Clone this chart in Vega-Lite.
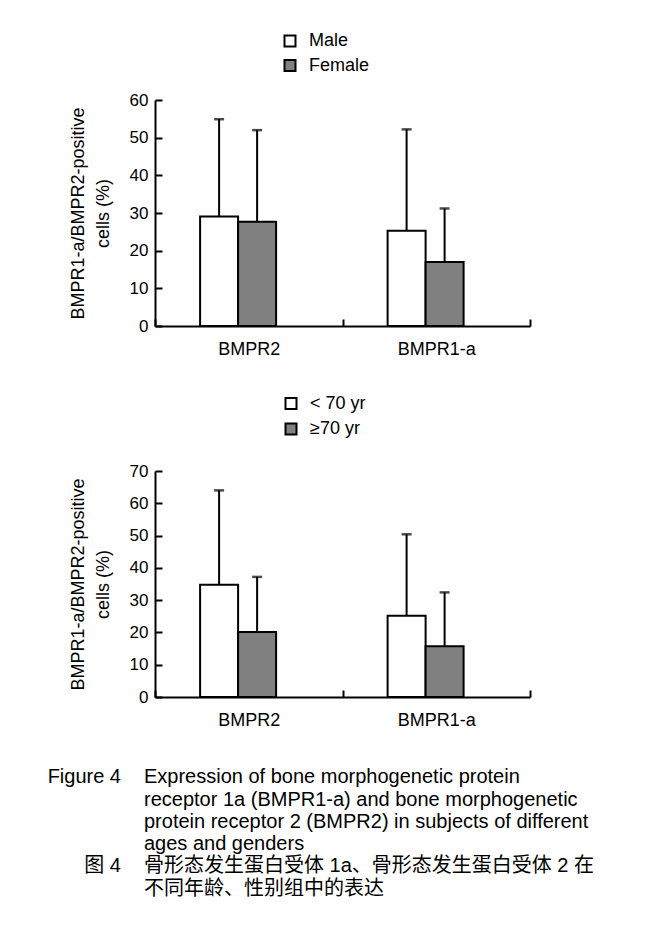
{
  "$schema": "https://vega.github.io/schema/vega-lite/v6.json",
  "background": "white",
  "padding": {"left": 44, "top": 32, "right": 5, "bottom": 5},
  "config": {
    "font": "Liberation Sans",
    "view": {"stroke": null},
    "axis": {
      "labelColor": "black",
      "labelFont": "Liberation Sans",
      "titleColor": "black",
      "titleFont": "Liberation Sans",
      "titleFontWeight": "normal",
      "domainColor": "black",
      "domainWidth": 2,
      "tickColor": "black",
      "tickWidth": 2,
      "tickSize": -7,
      "grid": false,
      "labelOverlap": false
    },
    "legend": {"labelFont": "Liberation Sans", "labelColor": "black"}
  },
  "datasets": {
    "gender": [
      {"receptor": "BMPR2", "group": "Male", "mean": 29.1, "upper": 54.9},
      {"receptor": "BMPR2", "group": "Female", "mean": 27.7, "upper": 52.0},
      {"receptor": "BMPR1-a", "group": "Male", "mean": 25.3, "upper": 52.2},
      {"receptor": "BMPR1-a", "group": "Female", "mean": 17.0, "upper": 31.2}
    ],
    "age": [
      {"receptor": "BMPR2", "group": "< 70 yr", "mean": 34.8, "upper": 64.0},
      {"receptor": "BMPR2", "group": "≥70 yr", "mean": 20.1, "upper": 37.2},
      {"receptor": "BMPR1-a", "group": "< 70 yr", "mean": 25.2, "upper": 50.4},
      {"receptor": "BMPR1-a", "group": "≥70 yr", "mean": 15.7, "upper": 32.4}
    ],
    "caption": [
      {"line": 1, "part": "label", "text": "Figure 4"},
      {"line": 1, "part": "body", "text": "Expression of bone morphogenetic protein"},
      {"line": 2, "part": "body", "text": "receptor 1a (BMPR1-a) and bone morphogenetic"},
      {"line": 3, "part": "body", "text": "protein receptor 2 (BMPR2) in subjects of different"},
      {"line": 4, "part": "body", "text": "ages and genders"},
      {"line": 5, "part": "label", "text": "图 4"},
      {"line": 5, "part": "body", "text": "骨形态发生蛋白受体 1a、骨形态发生蛋白受体 2 在"},
      {"line": 6, "part": "body", "text": "不同年龄、性别组中的表达"}
    ]
  },
  "resolve": {"scale": {"fill": "independent", "xOffset": "independent"}, "legend": {"fill": "independent"}},
  "spacing": 36,
  "vconcat": [
    {
      "width": 375,
      "height": 226,
      "data": {"name": "gender"},
      "encoding": {
        "x": {
          "field": "receptor", "type": "nominal", "sort": ["BMPR2", "BMPR1-a"],
          "scale": {"paddingInner": 0, "paddingOuter": 0},
          "axis": {"title": null, "labelAngle": 0, "tickBand": "extent", "labelFontSize": 18, "labelPadding": 21}
        },
        "xOffset": {
          "field": "group", "type": "nominal",
          "scale": {"domain": ["_l", "Male", "Female", "_r"], "paddingInner": 0, "paddingOuter": 0.467, "align": 0.2}
        }
      },
      "layer": [
        {
          "mark": {"type": "rule", "color": "black", "strokeWidth": 2},
          "encoding": {
            "y": {"field": "mean", "type": "quantitative", "scale": {"domain": [0, 60], "nice": false},
                  "axis": {"title": ["", "BMPR1-a/BMPR2-positive", "cells (%)"], "titleFontSize": 18, "titleLineHeight": 25, "titlePadding": 17, "values": [0, 10, 20, 30, 40, 50, 60], "labelFontSize": 17, "labelPadding": 14}},
            "y2": {"field": "upper"}
          }
        },
        {
          "mark": {"type": "tick", "color": "black", "thickness": 2.5, "size": 10},
          "encoding": {"y": {"field": "upper", "type": "quantitative", "scale": {"domain": [0, 60], "nice": false},
                  "axis": {"title": ["", "BMPR1-a/BMPR2-positive", "cells (%)"], "titleFontSize": 18, "titleLineHeight": 25, "titlePadding": 17, "values": [0, 10, 20, 30, 40, 50, 60], "labelFontSize": 17, "labelPadding": 14}}}
        },
        {
          "mark": {"type": "bar", "stroke": "black", "strokeWidth": 2},
          "encoding": {
            "y": {"field": "mean", "type": "quantitative", "scale": {"domain": [0, 60], "nice": false},
                  "axis": {"title": ["", "BMPR1-a/BMPR2-positive", "cells (%)"], "titleFontSize": 18, "titleLineHeight": 25, "titlePadding": 17, "values": [0, 10, 20, 30, 40, 50, 60], "labelFontSize": 17, "labelPadding": 14}},
            "fill": {
              "field": "group", "type": "nominal",
              "scale": {"domain": ["Male", "Female"], "range": ["white", "#808080"]},
              "legend": {"orient": "none", "legendX": 126, "legendY": -68, "title": null, "symbolType": "square", "symbolSize": 121, "symbolStrokeColor": "black", "symbolStrokeWidth": 2, "labelFontSize": 18, "labelOffset": 10, "rowPadding": 4.5, "padding": 0}
            }
          }
        }
      ]
    },
    {
      "width": 375,
      "height": 226,
      "data": {"name": "age"},
      "encoding": {
        "x": {
          "field": "receptor", "type": "nominal", "sort": ["BMPR2", "BMPR1-a"],
          "scale": {"paddingInner": 0, "paddingOuter": 0},
          "axis": {"title": null, "labelAngle": 0, "tickBand": "extent", "labelFontSize": 18, "labelPadding": 21}
        },
        "xOffset": {
          "field": "group", "type": "nominal",
          "scale": {"domain": ["_l", "< 70 yr", "≥70 yr", "_r"], "paddingInner": 0, "paddingOuter": 0.467, "align": 0.2}
        }
      },
      "layer": [
        {
          "mark": {"type": "rule", "color": "black", "strokeWidth": 2},
          "encoding": {
            "y": {"field": "mean", "type": "quantitative", "scale": {"domain": [0, 70], "nice": false},
                  "axis": {"title": ["", "BMPR1-a/BMPR2-positive", "cells (%)"], "titleFontSize": 18, "titleLineHeight": 25, "titlePadding": 17, "values": [0, 10, 20, 30, 40, 50, 60, 70], "labelFontSize": 17, "labelPadding": 14}},
            "y2": {"field": "upper"}
          }
        },
        {
          "mark": {"type": "tick", "color": "black", "thickness": 2.5, "size": 10},
          "encoding": {"y": {"field": "upper", "type": "quantitative", "scale": {"domain": [0, 70], "nice": false},
                  "axis": {"title": ["", "BMPR1-a/BMPR2-positive", "cells (%)"], "titleFontSize": 18, "titleLineHeight": 25, "titlePadding": 17, "values": [0, 10, 20, 30, 40, 50, 60, 70], "labelFontSize": 17, "labelPadding": 14}}}
        },
        {
          "mark": {"type": "bar", "stroke": "black", "strokeWidth": 2},
          "encoding": {
            "y": {"field": "mean", "type": "quantitative", "scale": {"domain": [0, 70], "nice": false},
                  "axis": {"title": ["", "BMPR1-a/BMPR2-positive", "cells (%)"], "titleFontSize": 18, "titleLineHeight": 25, "titlePadding": 17, "values": [0, 10, 20, 30, 40, 50, 60, 70], "labelFontSize": 17, "labelPadding": 14}},
            "fill": {
              "field": "group", "type": "nominal",
              "scale": {"domain": ["< 70 yr", "≥70 yr"], "range": ["white", "#808080"]},
              "legend": {"orient": "none", "legendX": 127, "legendY": -76.5, "title": null, "symbolType": "square", "symbolSize": 121, "symbolStrokeColor": "black", "symbolStrokeWidth": 2, "labelFontSize": 18, "labelOffset": 10, "rowPadding": 5.5, "padding": 0}
            }
          }
        }
      ]
    },
    {
      "width": 23,
      "height": 136,
      "data": {"name": "caption"},
      "encoding": {
        "x": {"field": "part", "type": "nominal", "scale": {"type": "point", "domain": ["label", "body"], "padding": 0}, "axis": null},
        "y": {"field": "line", "type": "ordinal", "scale": {"type": "point", "domain": [1, 2, 3, 4, 5, 6], "padding": 0.55}, "axis": null},
        "text": {"field": "text", "type": "nominal"}
      },
      "layer": [
        {
          "transform": [{"filter": "datum.part === 'label'"}],
          "mark": {"type": "text", "align": "right", "baseline": "middle", "dx": -34, "fontSize": 20, "font": "Liberation Sans, Noto Sans CJK SC", "color": "black"}
        },
        {
          "transform": [{"filter": "datum.part === 'body'"}],
          "mark": {"type": "text", "align": "left", "baseline": "middle", "dx": -34, "fontSize": 20, "font": "Liberation Sans, Noto Sans CJK SC", "color": "black"}
        }
      ]
    }
  ]
}
